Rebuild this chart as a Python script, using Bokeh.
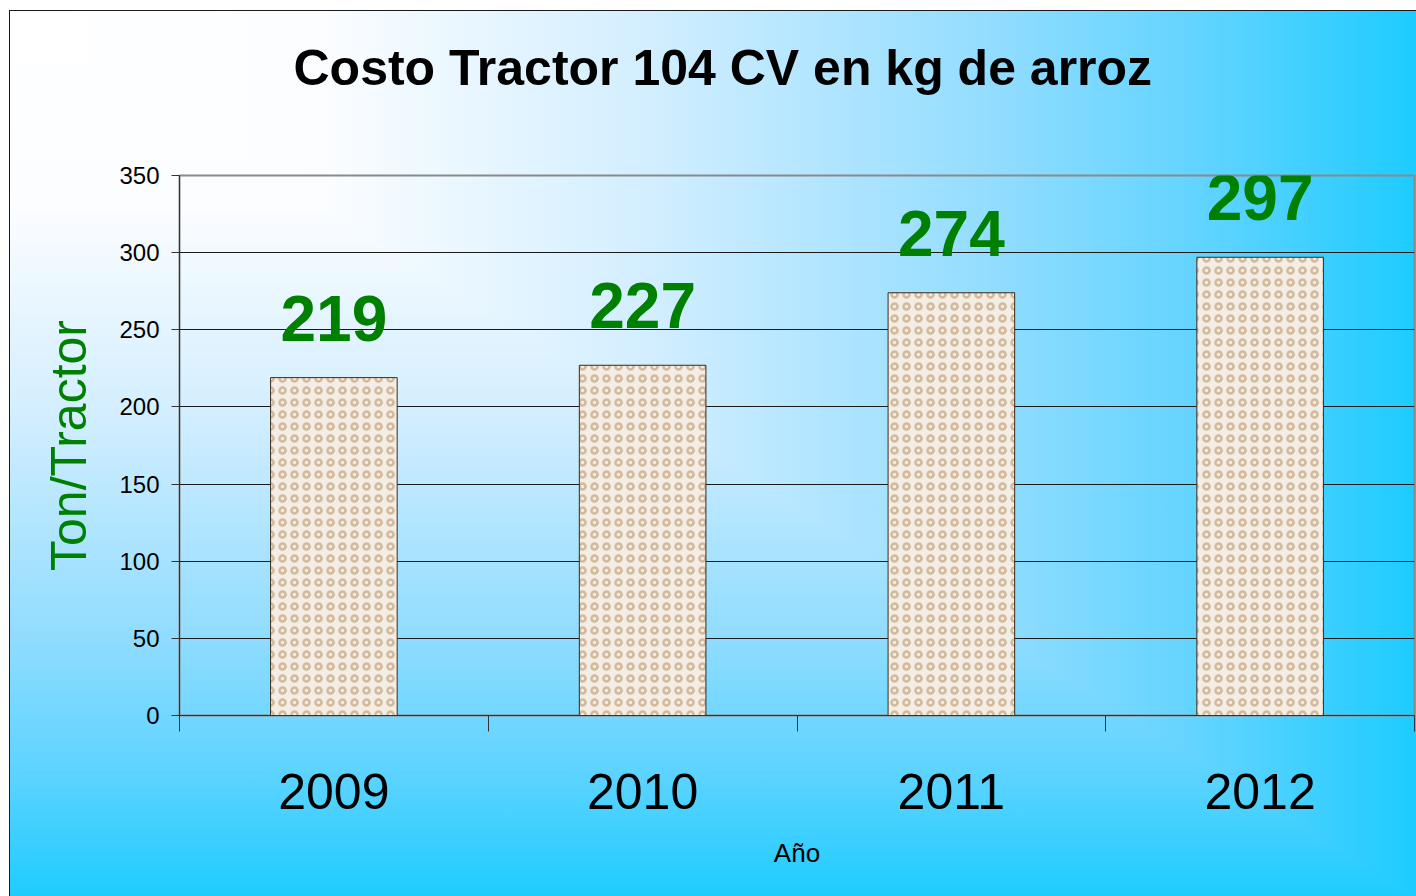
from urllib.parse import quote

from bokeh.plotting import figure
from bokeh.models import (ColumnDataSource, Range1d, FixedTicker, LabelSet, Title)
from bokeh.core.properties import value
from bokeh.embed import file_html
from bokeh.resources import INLINE

# ---- data ----
years = ["2009", "2010", "2011", "2012"]
tons = [219, 227, 274, 297]
y_ticks = [0, 50, 100, 150, 200, 250, 300, 350]
title_text = "Costo Tractor 104 CV en kg de arroz"
y_title = "Ton/Tractor"
x_title = "Año"

FONT = "Liberation Sans"

# category slots: centre of slot i is i + 0.5, boundaries at integers
slot_centres = [i + 0.5 for i in range(len(years))]
slot_edges = list(range(len(years) + 1))

# ---- background (rectangular gradient from the top-left corner) ----
stops = [(0.0, "#ffffff"), (0.22, "#fbfdff"), (0.45, "#d2eeff"),
         (0.70, "#8fdcff"), (0.85, "#5cd3ff"), (1.0, "#17cbff")]
stop_xml = "".join(f'<stop offset="{o}" stop-color="{c}"/>' for o, c in stops)
svg = ('<svg xmlns="http://www.w3.org/2000/svg" viewBox="0 0 100 100" preserveAspectRatio="none">'
       f'<defs><linearGradient id="h" x1="0" y1="0" x2="1" y2="0">{stop_xml}</linearGradient>'
       f'<linearGradient id="v" x1="0" y1="0" x2="0" y2="1">{stop_xml}</linearGradient></defs>'
       '<rect x="0" y="0" width="100" height="100" fill="url(#h)"/>'
       '<polygon points="0,0 0,100 100,100" fill="url(#v)"/>'
       '<rect x="0" y="0" width="100" height="100" fill="none" stroke="#1a1a1a" '
       'stroke-width="2" vector-effect="non-scaling-stroke"/></svg>')
bg = f'url("data:image/svg+xml,{quote(svg)}")'

source = ColumnDataSource(dict(x=slot_centres, year=years, tons=tons,
                               label=[str(v) for v in tons]))

p = figure(width=1416, height=896, output_backend="svg", toolbar_location=None,
           x_range=Range1d(slot_edges[0], slot_edges[-1]),
           y_range=Range1d(y_ticks[0], y_ticks[-1]),
           min_border_left=179, min_border_right=2, min_border_top=175, min_border_bottom=181)
p.styles = {"background-color": "white", "background-image": bg,
            "background-size": "1426px 900px", "background-position": "9px 10px",
            "background-repeat": "no-repeat"}
p.background_fill_color = None
p.border_fill_color = None
p.outline_line_color = "#8a8a8a"
p.outline_line_width = 2
p.xgrid.visible = False

# y axis
ya = p.yaxis[0]
ya.ticker = FixedTicker(ticks=y_ticks)
ya.minor_tick_line_color = None
ya.major_tick_in = 0
ya.major_tick_out = 8
ya.axis_line_color = "#333333"
ya.major_tick_line_color = "#333333"
ya.major_label_text_font = FONT
ya.major_label_text_font_size = "24px"
ya.major_label_text_color = "black"
ya.major_label_standoff = 12
ya.axis_label = y_title
ya.axis_label_text_font = FONT
ya.axis_label_text_font_size = "50px"
ya.axis_label_text_font_style = "normal"
ya.axis_label_text_color = "#008000"
ya.axis_label_standoff = 19

p.ygrid.ticker = FixedTicker(ticks=y_ticks[1:-1])
p.ygrid.grid_line_color = "#1a1a1a"
p.ygrid.grid_line_width = 1

# x axis: labels at slot centres, ticks at slot boundaries
xa = p.xaxis[0]
xa.ticker = FixedTicker(ticks=slot_centres, minor_ticks=slot_edges)
xa.major_label_overrides = {c: y for c, y in zip(slot_centres, years)}
xa.major_tick_out = 0
xa.major_tick_in = 0
xa.minor_tick_out = 16
xa.minor_tick_in = 0
xa.minor_tick_line_color = "#333333"
xa.axis_line_color = "#333333"
xa.major_label_standoff = 42
xa.major_label_text_font = FONT
xa.major_label_text_font_size = "50px"
xa.major_label_text_color = "black"
xa.axis_label = x_title
xa.axis_label_text_font = FONT
xa.axis_label_text_font_size = "26px"
xa.axis_label_text_font_style = "normal"
xa.axis_label_text_color = "black"
xa.axis_label_standoff = 26

# bars with a grainy (rice-like) texture
p.vbar(x="x", top="tons", width=0.41, source=source,
       fill_color="#f3ede4", line_color="#3a2a1a", line_width=1,
       hatch_pattern="ring", hatch_color="#b89060", hatch_alpha=0.55,
       hatch_scale=12, hatch_weight=2.5)

labels = LabelSet(x="x", y="tons", text="label", source=source,
                  text_align="center", text_baseline="alphabetic", y_offset=37,
                  text_font=value(FONT), text_font_size=value("64px"),
                  text_font_style=value("bold"), text_color=value("#008000"))
p.add_layout(labels)

# title (spacer first so the title sits higher)
p.add_layout(Title(text=" ", text_font=FONT, text_font_size="56px"), "above")
p.add_layout(Title(text=title_text, align="left", offset=114, text_font=FONT,
                   text_font_size="50px", text_font_style="bold", text_color="black"),
             "above")

open("out.html", "w").write(file_html(p, INLINE))
